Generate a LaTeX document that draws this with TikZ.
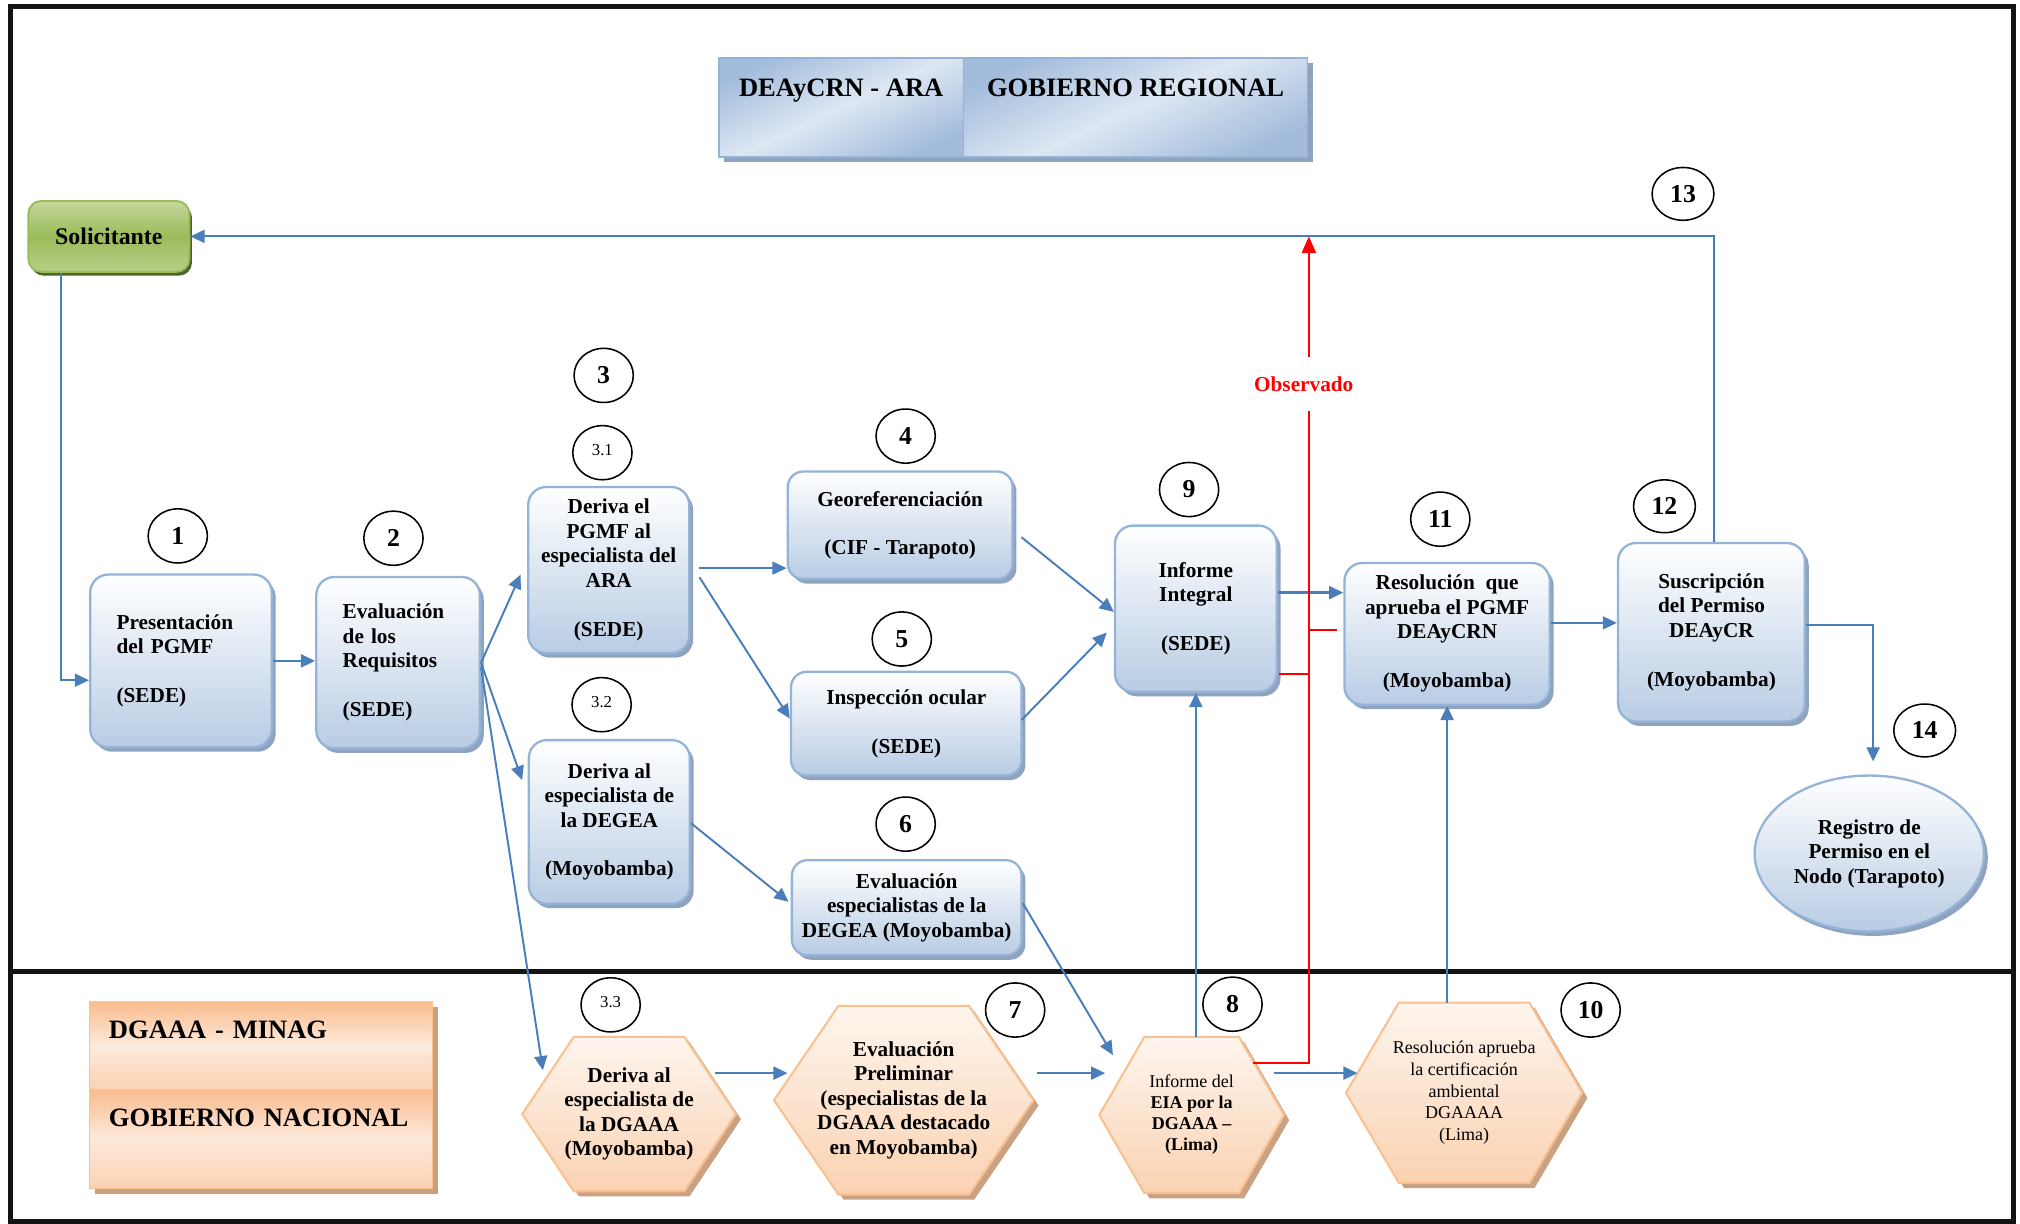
\documentclass[tikz,border=0pt]{standalone}
\usepackage{fontspec}
\setmainfont{Liberation Serif}
\usetikzlibrary{arrows.meta,shapes.geometric,shadows,calc,backgrounds}
\definecolor{arrblue}{HTML}{4A7EBB}
\definecolor{boxblue}{HTML}{B8CCE4}
\definecolor{boxborder}{HTML}{95B3D7}
\definecolor{boxshadow}{HTML}{8FA2BE}
\definecolor{hexfillA}{HTML}{FEF5EE}
\definecolor{hexfillB}{HTML}{FAD2B1}
\definecolor{hexborder}{HTML}{FAC090}
\definecolor{hexshadow}{HTML}{C9A283}
\definecolor{greenA}{HTML}{C5D89E}
\definecolor{greenB}{HTML}{9BBB59}
\definecolor{greenshadow}{HTML}{4F6228}
\definecolor{hdrA}{HTML}{A3BCDC}
\definecolor{hdrB}{HTML}{DDE7F3}
\definecolor{orA}{HTML}{F9BC8E}
\definecolor{orB}{HTML}{FDEADC}
\definecolor{orborder}{HTML}{FAC090}
\definecolor{orshadow}{HTML}{C9A07E}
\definecolor{redl}{HTML}{FF0000}
\newcommand\hexback[2]{%
  \fill[hexshadow] ($(#1.north west)+(#2+4,4)$) -- ($(#1.north east)+(-#2+4,4)$) -- ($(#1.east)+(4,4)$) -- ($(#1.south east)+(-#2+4,4)$) -- ($(#1.south west)+(#2+4,4)$) -- ($(#1.west)+(4,4)$) -- cycle;
  \path[draw=hexborder, line width=1.6pt, top color=hexfillA, bottom color=hexfillB] ($(#1.north west)+(#2,0)$) -- ($(#1.north east)+(-#2,0)$) -- (#1.east) -- ($(#1.south east)+(-#2,0)$) -- ($(#1.south west)+(#2,0)$) -- (#1.west) -- cycle;
}
\begin{document}
\begin{tikzpicture}[x=1pt,y=-1pt,
  bx/.style={rectangle, rounded corners=14pt, draw=boxborder, line width=1.8pt,
     top color=white, bottom color=boxblue, inner sep=2pt, align=center,
     drop shadow={shadow xshift=3pt, shadow yshift=-3.5pt, fill=boxshadow, opacity=1},
     font=\bfseries\fontsize{16.5}{19}\selectfont},
  hexn/.style={rectangle, inner sep=0pt, align=center, font=\bfseries\fontsize{16.5}{19}\selectfont},
  num/.style={ellipse, draw=black, line width=1.2pt, minimum width=46pt, minimum height=42pt, inner sep=0pt, font=\bfseries\fontsize{20}{20}\selectfont},
  subnum/.style={num, font=\fontsize{13}{13}\selectfont},
  hdr/.style={rectangle, draw=boxborder, line width=1.2pt, inner ysep=0pt, minimum height=77pt,
     text height=29.8pt, text depth=47.2pt,
     top color=hdrA, bottom color=hdrA, middle color=hdrB, shading angle=25,
     drop shadow={shadow xshift=4pt, shadow yshift=-4pt, fill=boxshadow, opacity=1},
     font=\bfseries\fontsize{20.6}{22}\selectfont},
  orbox/.style={rectangle, draw=orborder, line width=1.2pt, inner xsep=15pt, inner ysep=0pt,
     text width=236pt, align=left,
     top color=orA, bottom color=orA!55!orB, middle color=orB,
     drop shadow={shadow xshift=4pt, shadow yshift=-4pt, fill=orshadow, opacity=1},
     font=\bfseries\fontsize{20.6}{22}\selectfont},
  solst/.style={rectangle, rounded corners=10pt, draw=greenB, line width=1.5pt,
     top color=greenA, bottom color=greenA!70!greenB, middle color=greenB,
     drop shadow={shadow xshift=2pt, shadow yshift=-3pt, fill=greenshadow, opacity=1},
     font=\bfseries\fontsize{18.5}{20}\selectfont},
  arr/.style={draw=arrblue, line width=2pt, -{Triangle[length=11pt,width=10pt]}},
  arrt/.style={draw=arrblue, line width=1.5pt, -{Triangle[length=11pt,width=10pt]}},
  redln/.style={draw=redl, line width=1.6pt},
]
\useasboundingbox (0,0) rectangle (1568,950);
% frame
\draw[line width=3.5pt, black!92] (8,5) rectangle (1563,948);
\draw[line width=4pt, black!92] (8,754) -- (1563,754);

% header
\node[hdr, minimum width=190pt] (hdrL) at (653,83.5) {DEAyCRN - ARA};
\node[hdr, minimum width=267pt] (hdrR) at (881.5,83.5) {GOBIERNO REGIONAL};

% national label
\node[orbox, minimum height=68.3pt, text height=28.8pt, text depth=39.5pt] (dg) at (202.6,811.85) {DGAAA - MINAG};
\node[orbox, minimum height=76.5pt, text height=28.8pt, text depth=47.7pt] (gn) at (202.6,884.25) {GOBIERNO NACIONAL};

% solicitante
\node[solst, minimum width=125pt, minimum height=55pt] (sol) at (84.5,183.5) {Solicitante};

% boxes
\node[bx, minimum width=141pt, minimum height=134pt, text width=100pt, align=left] (b1) at (140.5,513) {Presentación\\del PGMF\\[19pt](SEDE)};
\node[bx, minimum width=127pt, minimum height=133pt, text width=86pt, align=left] (b2) at (309,514.4) {Evaluación\\de los\\Requisitos\\[19pt](SEDE)};
\node[bx, minimum width=125pt, minimum height=129pt] (b31) at (472.5,442.5) {Deriva el\\PGMF al\\especialista del\\ARA\\[19pt](SEDE)};
\node[bx, minimum width=125pt, minimum height=127pt] (b32) at (473,638) {Deriva al\\especialista de\\la DEGEA\\[19pt](Moyobamba)};
\node[bx, rounded corners=12pt, minimum width=174.5pt, minimum height=83.5pt] (b4) at (698.75,407.75) {Georeferenciación\\[19pt](CIF - Tarapoto)};
\node[bx, rounded corners=12pt, minimum width=179pt, minimum height=80.5pt] (b5) at (703.5,561.75) {Inspección ocular\\[19pt](SEDE)};
\node[bx, rounded corners=12pt, minimum width=178.3pt, minimum height=73.8pt] (b6) at (703.85,704.6) {Evaluación\\especialistas de la\\DEGEA (Moyobamba)};
\node[bx, minimum width=125.5pt, minimum height=129pt] (b9) at (928.25,472.5) {Informe\\Integral\\[19pt](SEDE)};
\node[bx, minimum width=159.4pt, minimum height=110pt] (b11) at (1123.3,492) {Resolución\ \ que\\aprueba el PGMF\\DEAyCRN\\[19pt](Moyobamba)};
\node[bx, minimum width=145pt, minimum height=138.5pt] (b12) at (1328.5,490.75) {Suscripción\\del Permiso\\DEAyCR\\[19pt](Moyobamba)};
\node[bx, ellipse, minimum width=178pt, minimum height=121pt] (e14) at (1451,662.5) {Registro de\\Permiso en el\\Nodo (Tarapoto)};

% hexagon nodes
\node[hexn, minimum width=165.4pt, minimum height=119.5pt] (h33) at (488.3,864.75) {Deriva al\\especialista de\\la DGAAA\\(Moyobamba)};
\node[hexn, minimum width=201pt, minimum height=146pt] (h7) at (701.5,854) {Evaluación\\Preliminar\\(especialistas de la\\DGAAA destacado\\en Moyobamba)};
\node[hexn, minimum width=143pt, minimum height=121pt, font=\bfseries\fontsize{14}{16.3}\selectfont] (h8) at (925,865.5) {{\mdseries Informe del}\\EIA por la\\DGAAA –\\(Lima)};
\node[hexn, minimum width=183pt, minimum height=139.5pt, font=\fontsize{14}{16.75}\selectfont] (h10) at (1136.5,848.25) {Resolución aprueba\\la certificación\\ambiental\\DGAAAA\\(Lima)};
\begin{scope}[on background layer]
  \hexback{h33}{40}
  \hexback{h7}{50}
  \hexback{h8}{35}
  \hexback{h10}{41}
\end{scope}

% number circles
\node[num] (n1) at (138,416) {1};
\node[num] (n2) at (305.4,417.8) {2};
\node[num] (n3) at (468.6,291.4) {3};
\node[subnum] (n31) at (467.6,351.4) {\raisebox{4pt}{3.1}};
\node[subnum] (n32) at (467,547) {\raisebox{4pt}{3.2}};
\node[subnum] (n33) at (474,780) {\raisebox{4pt}{3.3}};
\node[num] (n4) at (703,338.5) {4};
\node[num] (n5) at (700,496) {5};
\node[num] (n6) at (703,639.7) {6};
\node[num] (n7) at (788,784) {7};
\node[num] (n8) at (956.7,779.5) {8};
\node[num] (n9) at (923,380) {9};
\node[num] (n10) at (1234.7,784) {10};
\node[num] (n11) at (1118,403) {11};
\node[num, minimum width=48pt, minimum height=41pt] (n12) at (1292,393) {12};
\node[num, minimum width=48pt, minimum height=41pt] (n13) at (1306.4,150.5) {13};
\node[num, minimum width=48pt, minimum height=41pt] (n14) at (1494,567) {14};

% Observado label
\node[font=\bfseries\fontsize{16.5}{19}\selectfont, text=redl, inner sep=0pt, minimum height=42pt] (obs) at (1012,298) {Observado};
\coordinate (redx) at (1016,0);

% connectors
\coordinate (c1) at ($(b1.west)+(0,15)$);
\draw[arrt] ($(sol.south)+(-37.5,0)$) |- (c1);
\draw[arr] (b1.east) -- (b1.east -| b2.west);
\draw[arrt] (b2.east) -- ($(b31.west)+(-5,3.5)$);
\draw[arrt] (b2.east) -- ($(b32.west)+(-4.3,-32.4)$);
\draw[arrt] ($(b2.east)+(0,3.6)$) -- ($(h33.west)+(16,-34)$);
\coordinate (q31) at ($(b31.east)+(7,-1.5)$);
\draw[arrt] (q31) -- (q31 -| b4.west);
\draw[arrt] ($(b31.east)+(7,5.5)$) -- ($(b5.west)+(0,-4)$);
\draw[arrt] ($(b32.east)+(0,1)$) -- ($(b6.west)+(-1.7,-4.6)$);
\draw[arrt] ($(b4.east)+(6,9.25)$) -- ($(b9.west)+(0,2.5)$);
\draw[arrt] ($(b5.east)+(-1,-2.75)$) -- ($(b9.west)+(-5.5,18.5)$);
\draw[arrt] ($(b6.east)+(0,-3.6)$) -- ($(h8.west)+(10.6,-46.5)$);
\coordinate (rowY) at (0,833);
\draw[arr] ($(h33.east|-rowY)+(-16,0)$) -- ($(h7.west|-rowY)+(10.6,0)$);
\draw[arr] ($(h7.east|-rowY)+(2.6,0)$) -- ($(h8.west|-rowY)+(4.6,0)$);
\draw[arr] ($(h8.east|-rowY)+(-7.5,0)$) -- ($(h10.west|-rowY)+(9,0)$);
\draw[arr] (h8.north -| b9.south) -- (b9.south);
\draw[arr] (h10.north -| b11.south) -- (b11.south);
\coordinate (p9) at ($(b9.east)+(0,-12.5)$);
\draw[arr] (p9) -- (p9 -| b11.west);
\coordinate (p11) at ($(b11.east)+(0,-8.5)$);
\draw[arr] (p11) -- (p11 -| b12.west);
\coordinate (p12) at ($(b12.east)+(0,-5.75)$);
\draw[arr, shorten >=10pt] (p12) -| ($(e14.north)+(3,0)$);
\draw[arrt] ($(b12.north)+(2.2,0)$) |- (sol.east);

% red (observado)
\draw[redln] ($(h8.west)+(119.6,-40.5)$) -| (obs.south -| redx);
\draw[redln, -{Triangle[length=13pt,width=11pt]}] (obs.north -| redx) -- (redx |- sol.east);
\coordinate (r9) at ($(b9.east)+(1,50.5)$);
\draw[redln] (r9) -- (r9 -| redx);
\coordinate (r11) at ($(b11.west)+(-4.6,-3)$);
\draw[redln] (r11 -| redx) -- (r11);
\end{tikzpicture}
\end{document}
